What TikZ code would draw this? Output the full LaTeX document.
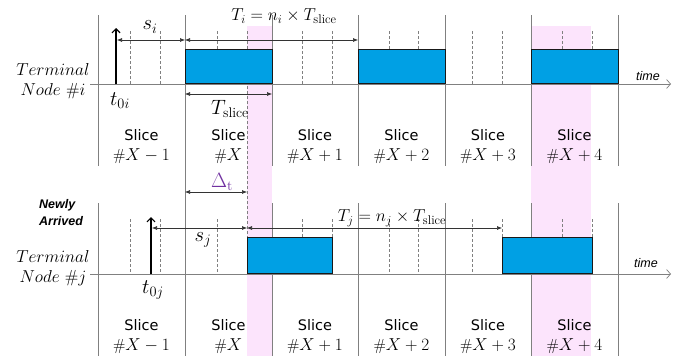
\documentclass[tikz,border=0pt]{standalone}
\usepackage{fontspec}
\newfontfamily\slicefont{DejaVu Sans}
\newfontfamily\arialfont{Liberation Sans}
\usetikzlibrary{arrows.meta}
\definecolor{boxblue}{RGB}{0,160,228}
\definecolor{bandpink}{RGB}{252,228,252}
\definecolor{gridgray}{RGB}{128,128,128}
\definecolor{deltapurple}{RGB}{112,48,160}
\begin{document}
\begin{tikzpicture}[x=1pt,y=-1pt,
  slot/.style={draw=black!90, line width=0.9pt, fill=boxblue},
  band/.style={fill=bandpink, draw=none},
  slicebd/.style={draw=gridgray, line width=0.7pt},
  subdiv/.style={draw=gridgray, line width=0.6pt, dash pattern=on 3pt off 2pt},
  axisline/.style={draw=gridgray, line width=0.7pt, -{Straight Barb[length=4pt,width=9pt]}},
  dim/.style={draw=black!80, line width=0.6pt, {Latex[length=5pt,width=4pt]}-{Latex[length=5pt,width=4pt]}},
  arrival/.style={draw=black, line width=1.2pt, -{Straight Barb[length=4pt,width=8pt]}},
  slicelbl/.style={font=\slicefont\fontsize{14.5}{20}\selectfont, align=center, inner sep=0pt},
  mathlbl/.style={font=\fontsize{18}{20}\selectfont, inner sep=0pt},
  smalllbl/.style={font=\fontsize{20}{22}\selectfont, inner sep=0pt},
  namelbl/.style={font=\fontsize{17.5}{21}\selectfont, align=center, inner sep=0pt},
  timelbl/.style={font=\arialfont\itshape\fontsize{12.5}{14}\selectfont, inner sep=0pt},
  newlbl/.style={font=\arialfont\bfseries\itshape\fontsize{12.5}{17}\selectfont, align=left, inner sep=0pt}
]
\useasboundingbox (0,0) rectangle (678,356);

% pink bands
\fill[band] (247,26) rectangle (272,356);
\fill[band] (531,26) rectangle (591,356);

% dashed subdivisions
\foreach \x in {130,160,217,302,332,389,418,472,502,562,592} {
  \draw[subdiv] (\x,31) -- (\x,84);
  \draw[subdiv] (\x,219) -- (\x,274);
}
\draw[subdiv] (247,31) -- (247,274);

% slice boundaries
\foreach \x in {98,272,358,445,531,618} {
  \draw[slicebd] (\x,15) -- (\x,166);
  \draw[slicebd] (\x,203) -- (\x,356);
}
\draw[slicebd] (185,15) -- (185,356);

% axes
\coordinate (axiS) at (90,84);  \coordinate (axiE) at (671,84);
\coordinate (axjS) at (90,274); \coordinate (axjE) at (671,274);
\draw[axisline] (axiS) -- (axiE);
\draw[axisline] (axjS) -- (axjE);
\node[timelbl] (timei) at (648,76) {time};
\node[timelbl] (timej) at (646,263) {time};

% transmission boxes
\node[slot, minimum width=87pt, minimum height=34pt, inner sep=0pt, anchor=south west] (bi1) at (185,84) {};
\node[slot, minimum width=87pt, minimum height=34pt, inner sep=0pt, anchor=south west] (bi2) at (358,84) {};
\node[slot, minimum width=87pt, minimum height=34pt, inner sep=0pt, anchor=south west] (bi3) at (531,84) {};
\node[slot, minimum width=85pt, minimum height=36pt, inner sep=0pt, anchor=south west] (bj1) at (247,274) {};
\node[slot, minimum width=90pt, minimum height=36pt, inner sep=0pt, anchor=south west] (bj2) at (502,274) {};

% arrival arrows
\coordinate (t0iB) at (116,84); \coordinate (t0iT) at (116,28);
\coordinate (t0jB) at (151,274); \coordinate (t0jT) at (151,217);
\draw[arrival] (t0iB) -- (t0iT);
\draw[arrival] (t0jB) -- (t0jT);

% dimension arrows, node i
\coordinate (siA) at (117,40); \coordinate (siB) at (185,40);
\coordinate (TiA) at (185,40); \coordinate (TiB) at (358,40);
\coordinate (TsA) at (185,94); \coordinate (TsB) at (272,94);
\draw[dim] (siA) -- (siB);
\draw[dim] (TiA) -- (TiB);
\draw[dim] (TsA) -- (TsB);

% dimension arrows, node j
\coordinate (sjA) at (152,228); \coordinate (sjB) at (247,228);
\coordinate (TjA) at (247,228); \coordinate (TjB) at (502,228);
\coordinate (dA) at (185,192); \coordinate (dB) at (247,192);
\draw[dim] (sjA) -- (sjB);
\draw[dim] (TjA) -- (TjB);
\draw[dim] (dA) -- (dB);

% math labels
\node[smalllbl] (si) at (150,27) {$s_i$};
\node[mathlbl] (Ti) at (284,16) {$T_i = n_i \times T_{\mathrm{slice}}$};
\node[smalllbl] (t0i) at (120,101) {$t_{0i}$};
\node[smalllbl] (Tslice) at (230,109) {$T_{\mathrm{slice}}$};
\node[smalllbl] (sj) at (203,240) {$s_j$};
\node[mathlbl] (Tj) at (392,218) {$T_j = n_j \times T_{\mathrm{slice}}$};
\node[smalllbl] (t0j) at (153,290) {$t_{0j}$};
\node[smalllbl, text=deltapurple] (delta) at (222,182) {$\Delta_{\mathrm{t}}$};

% terminal names
\node[namelbl] (termi) at (53,81) {$Terminal$\\[-1pt]$Node\ \#i$};
\node[namelbl] (termj) at (53,268) {$Terminal$\\[-1pt]$Node\ \#j$};
\node[newlbl, anchor=west] (newly) at (39,213) {Newly\\Arrived};

% slice labels
\foreach \c/\lab [count=\k] in {141.5/{-1}, 228.5/{}, 315/{+1}, 401.5/{+2}, 488/{+3}, 574.5/{+4}} {
  \node[slicelbl] (sli\k) at (\c,147) {Slice\\{\fontsize{16}{20}\selectfont$\#X\lab$}};
  \node[slicelbl] (slj\k) at (\c,337) {Slice\\{\fontsize{16}{20}\selectfont$\#X\lab$}};
}
\end{tikzpicture}
\end{document}
